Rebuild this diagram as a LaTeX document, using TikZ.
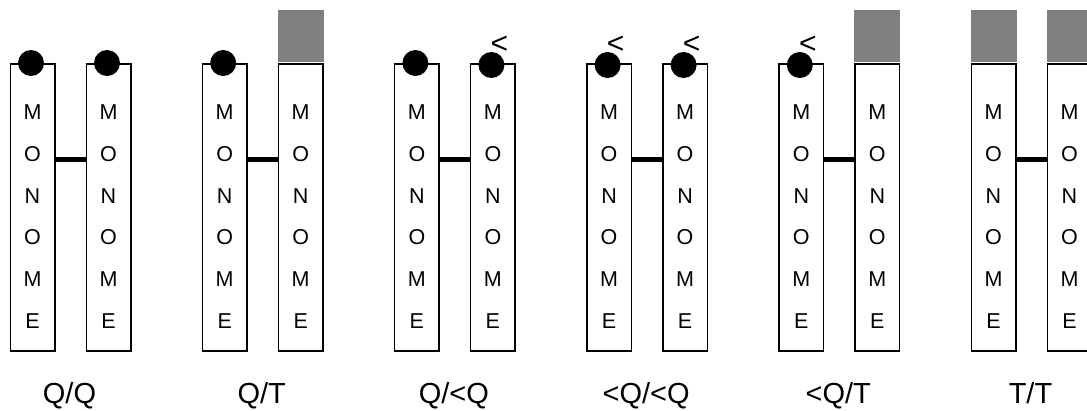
\documentclass[tikz,border=0pt]{standalone}
\usepackage{fontspec}
\setmainfont{Liberation Sans}
\definecolor{capgray}{HTML}{808080}

\tikzset{
  strand/.style={draw, line width=1.5pt, minimum width=44.5pt, minimum height=287pt, inner sep=0pt},
  letter/.style={inner sep=0pt, text height=15.4pt, text depth=0pt, font=\fontsize{21.5pt}{24pt}\selectfont},
  bond/.style={line width=5pt},
  bead/.style={circle, fill=black, minimum size=26pt, inner sep=0pt},
  endcap/.style={fill=capgray, minimum width=46pt, minimum height=52pt, inner sep=0pt, anchor=south},
  lessmark/.style={inner sep=0pt, font=\fontsize{30pt}{34pt}\selectfont},
  caption/.style={inner sep=0pt, text height=20.8pt, text depth=0pt, font=\fontsize{29pt}{34pt}\selectfont},
}

% two strands joined by a bond, with their letters and the caption below
\newcommand\strandpair[3]{%
  \node[strand] (#1l) at (#2,207.25) {};
  \node[strand] (#1r) at (#2+76,207.25) {};
  \foreach \c [count=\i] in {M,O,N,O,M,E} {
    \node[letter] (#1l\i) at (#2, 112.2+41.66*\i-41.66) {\c};
    \node[letter] (#1r\i) at (#2+76, 112.2+41.66*\i-41.66) {\c};
  }
  \draw[bond] ([yshift=47.75pt]#1l.east) -- ([yshift=47.75pt]#1r.west);
  \node[caption] (#1cap) at (#2+37,393.5) {#3};
}

\begin{document}
\begin{tikzpicture}[x=1pt,y=-1pt]
\clip (0,0) rectangle (1087,410);

% Q/Q
\strandpair{ga}{32.5}{Q/Q}
\node[bead] (galb) at ([xshift=-1.5pt]gal.north) {};
\node[bead] (garb) at ([xshift=-1.5pt]gar.north) {};

% Q/T
\strandpair{gb}{224.7}{Q/T}
\node[bead] (gblb) at ([xshift=-1.5pt]gbl.north) {};
\node[endcap] (gbrc) at ([yshift=0.75pt]gbr.north) {};

% Q/<Q
\strandpair{gc}{416.9}{Q/<Q}
\node[bead] (gclb) at ([xshift=-1.5pt]gcl.north) {};
\node[bead] (gcrb) at ([xshift=-1.5pt,yshift=-2pt]gcr.north) {};
\node[lessmark] (gcrm) at ([xshift=8pt,yshift=20pt]gcrb.center) {<};

% <Q/<Q
\strandpair{gd}{609.1}{<Q/<Q}
\node[bead] (gdlb) at ([xshift=-1.5pt,yshift=-2pt]gdl.north) {};
\node[lessmark] (gdlm) at ([xshift=8pt,yshift=20pt]gdlb.center) {<};
\node[bead] (gdrb) at ([xshift=-1.5pt,yshift=-2pt]gdr.north) {};
\node[lessmark] (gdrm) at ([xshift=8pt,yshift=20pt]gdrb.center) {<};

% <Q/T
\strandpair{ge}{801.3}{<Q/T}
\node[bead] (gelb) at ([xshift=-1.5pt,yshift=-2pt]gel.north) {};
\node[lessmark] (gelm) at ([xshift=8pt,yshift=20pt]gelb.center) {<};
\node[endcap] (gerc) at ([yshift=0.75pt]ger.north) {};

% T/T
\strandpair{gf}{993.5}{T/T}
\node[endcap] (gflc) at ([yshift=0.75pt]gfl.north) {};
\node[endcap] (gfrc) at ([yshift=0.75pt]gfr.north) {};
\end{tikzpicture}
\end{document}
